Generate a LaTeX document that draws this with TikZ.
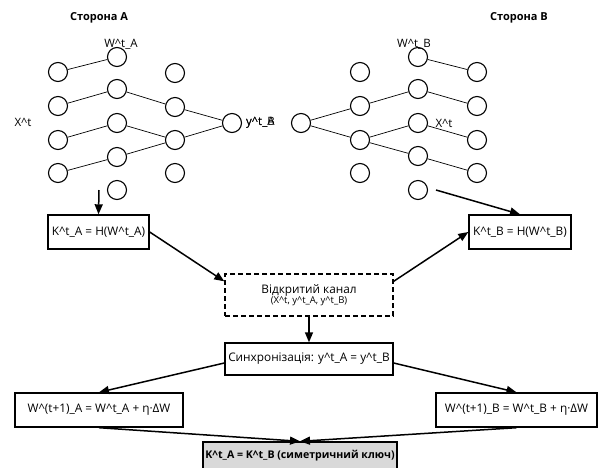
\documentclass[tikz,border=0pt]{standalone}
\usepackage{fontspec}
\setmainfont{Open Sans}
\usetikzlibrary{arrows.meta,calc}
\newcommand{\hatc}{\textasciicircum{}}
\tikzset{
  neuron/.style={circle,draw,line width=1.1pt,minimum size=19pt,inner sep=0pt},
  wire/.style={line width=0.7pt},
  box/.style={draw,line width=1.4pt,inner sep=0pt,font=\fontsize{11.8}{13}\selectfont,align=center},
  arr/.style={line width=1.5pt,-{Triangle[length=10pt,width=8pt]}},
  lbl/.style={font=\fontsize{11.5}{13}\selectfont,inner sep=0pt},
  ttl/.style={font=\bfseries\fontsize{11}{13}\selectfont,inner sep=0pt}
}
\begin{document}
\begin{tikzpicture}[x=1pt,y=-1pt]
\useasboundingbox (0,0) rectangle (603,467);
% neurons
\foreach \i/\y in {1/72,2/106,3/140,4/173} \node[neuron] (a\i) at (58,\y) {};
\foreach \i/\y in {1/57,2/89,3/123,4/157,5/190} \node[neuron] (b\i) at (117,\y) {};
\foreach \i/\y in {1/73,2/107,3/140,4/173} \node[neuron] (c\i) at (175,\y) {};
\node[neuron] (oa) at (232,123) {};
\node[neuron] (ob) at (301,123) {};
\foreach \i/\y in {1/72,2/106,3/140,4/173} \node[neuron] (d\i) at (360,\y) {};
\foreach \i/\y in {1/57,2/89,3/123,4/156,5/190} \node[neuron] (e\i) at (418,\y) {};
\foreach \i/\y in {1/72,2/106,3/140,4/173} \node[neuron] (f\i) at (477,\y) {};
% wires left
\draw[wire] (a1) -- (b1);
\draw[wire] (a2) -- (b2);
\draw[wire] (a3) -- (b3);
\draw[wire] (a4) -- (b4);
\draw[wire] (b2) -- (c2);
\draw[wire] (b3) -- (c3);
\draw[wire] (b4) -- (c3);
\draw[wire] (c2) -- (oa);
\draw[wire] (c3) -- (oa);
% wires right
\draw[wire] (ob) -- (d2);
\draw[wire] (ob) -- (d3);
\draw[wire] (d2) -- (e2);
\draw[wire] (d3) -- (e3);
\draw[wire] (d3) -- (e4);
\draw[wire] (e1) -- (f1);
\draw[wire] (e2) -- (f2);
\draw[wire] (e3) -- (f3);
\draw[wire] (e4) -- (f4);
% labels
\node[ttl] (ta) at (99,18) {Сторона А};
\node[ttl] (tb) at (519,18) {Сторона В};
\node[lbl] (wa) at (121,44) {W\hatc t\_A};
\node[lbl] (wb) at (414,44) {W\hatc t\_B};
\node[lbl] (xa) at (23,122) {X\hatc t};
\node[lbl] (xb) at (444,123) {X\hatc t};
\node[lbl,anchor=west] (ya) at (246,123) {y\hatc t\_A};
\node[lbl,anchor=west] (yb) at (246,123) {y\hatc t\_B};
% boxes
\node[box,minimum width=101pt,minimum height=34pt] (KA) at (98.5,232) {K\hatc t\_A = H(W\hatc t\_A)};
\node[box,minimum width=102pt,minimum height=34pt] (KB) at (520,232) {K\hatc t\_B = H(W\hatc t\_B)};
\node[box,dash pattern=on 5pt off 3pt,minimum width=168pt,minimum height=42pt] (ch) at (309,295) {Відкритий канал\\[-3pt]{\fontsize{9.5}{11}\selectfont(X\hatc t, y\hatc t\_A, y\hatc t\_B)}};
\node[box,minimum width=168pt,minimum height=32pt] (sy) at (309,359) {Синхронізація: y\hatc t\_A = y\hatc t\_B};
\node[box,minimum width=168pt,minimum height=34pt] (WA) at (99,410) {W\hatc (t+1)\_A = W\hatc t\_A + η·ΔW};
\node[box,minimum width=161pt,minimum height=34pt] (WB) at (516.5,410) {W\hatc (t+1)\_B = W\hatc t\_B + η·ΔW};
\node[box,fill=black!15,minimum width=194pt,minimum height=28pt,font=\bfseries\fontsize{10.6}{12}\selectfont] (KF) at (300,456) {K\hatc t\_A = K\hatc t\_B (симетричний ключ)};
% arrows
\coordinate (sa) at (99,190);
\coordinate (sb) at (436,190);
\draw[arr] (sa) -- (KA.north);
\draw[arr] (sb) -- (KB.north);
\draw[arr] (KA.east) -- ([yshift=-8pt]ch.north west);
\draw[arr] ([yshift=-8pt]ch.north east) -- (KB.west);
\draw[arr] (ch.south) -- (sy.north);
\draw[arr] ([yshift=-4pt]sy.west) -- (WA.north);
\draw[arr] ([yshift=-4pt]sy.east) -- (WB.north);
\draw[arr] (WA.south) -- (KF.north);
\draw[arr] (WB.south) -- (KF.north);
\end{tikzpicture}
\end{document}
